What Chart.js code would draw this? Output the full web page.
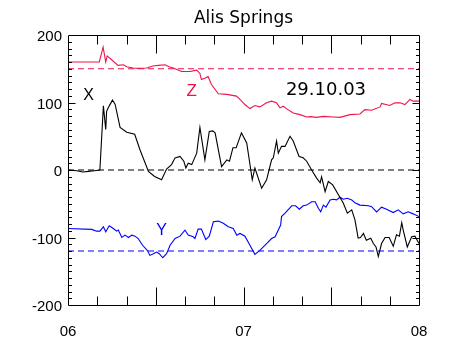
<!DOCTYPE html>
<html>
<head>
<meta charset="utf-8">
<script src="https://cdn.jsdelivr.net/npm/chart.js@4/dist/chart.umd.min.js"></script>
<style>
  html, body { margin: 0; padding: 0; background: #fff; }
  #wrap { width: 456px; height: 359px; }
</style>
</head>
<body>
<div id="wrap"><canvas id="c" width="456" height="359"></canvas></div>
<script>
// ---- data (x = minutes after 06:00 UT) ----
const title = "Alis Springs";
const dateLabel = "29.10.03";
const hourLabels = ["06", "07", "08"];

const zTime = [0,10.7,12,12.9,13.4,15,17.1,19,20,22.3,24,26.9,29,31,33.2,34.5,36,38.8,40.5,41.8,44,45.1,45.6,46.8,47.9,49,51.4,54.3,57.6,58.8,60.5,62.2,63.9,65.6,67.9,69.6,71.3,72.5,73.6,74.8,77,79.3,81.6,83,85,87.3,90.7,93,96.4,99.8,101.5,103.8,106.7,107.2,110,111.8,113.5,115.2,116.9,118,120];
const zValues = [160,160,182,160,169,163,155,156,153,151,150.5,151,154,155,156,153,151,146,146,146,148,143,134,136,138.5,127,113,112,109.5,104.5,97,91,95.5,93.5,99.5,102,99.5,92,94.5,90.5,84.5,82,78.5,79,78,79.5,78.5,78,82,83,89.5,88.5,93.5,98.5,95.5,99.5,99.5,97,104.5,102,102];

const xTime = [0,3,5,7,9,10.9,12.1,12.9,13.2,14.1,15.2,16.1,17.8,20.1,22.8,24.6,27.5,29.6,32,33.7,35.4,36.6,38.3,39.6,40.3,41.1,42.3,44,45.1,46.8,48.3,49.5,50.3,52.5,54.3,55.2,56.4,57.5,59.3,61.1,63,63.9,66.2,67.9,69.6,70.2,71.3,71.9,73,74.2,75.9,77,79,80.4,81.6,83.3,85,86.2,86.7,87.9,89,90.5,92.5,94.1,95.5,97,98.1,99.2,100,101,102,103.5,104.4,105.3,106.1,107.2,108.4,109.8,111.2,112.3,113.3,114.1,114.6,116,117.5,118.6,120];
const xValues = [0,-1,-3,-2,-1,0,95,60,87,95,103.5,97.5,63,56,53,30,-2,-9.5,-14.5,1.5,8,18,20,13,3,10,8,25,63,15,57,58,55,5,15,13,33,33,55,40,-14.5,3,-27,-14.5,15,18,43,25,35,35,50,43,20,18,13,0,-12,-19,-10,-32,-17,-22,-37,-49,-64,-59,-74,-101,-100,-94,-104,-101,-109,-114,-128,-109,-100,-100,-113,-96,-98,-78,-89,-114,-99,-98,-109];

const yTime = [0,8.1,9.8,10.9,12.1,12.9,14.1,15.5,16.6,17.2,18.4,19.5,20.7,21.8,22.9,24,25.5,27.1,28,29.2,30.3,31.2,32.4,33.7,34.9,36.6,38.3,40,41.1,42.8,43.4,44.5,45.6,47.1,48.3,49.7,51.4,53.1,54.8,56.5,57.7,58.8,60.5,62.2,63.9,65.6,67.9,69.6,70.8,71.9,72.7,73,74.2,75.7,76.5,77.8,79.1,80.4,81.6,83.3,84.5,85.6,86.4,87.3,88.2,89.6,90.7,91.8,93,94.1,95.5,97,98.1,99.8,102.7,103.8,105.5,107.2,108.9,111.2,112.9,114.6,116.3,118,120];
const yValues = [-86.6,-88,-90.6,-90.6,-84,-91.6,-82.7,-86.6,-90.6,-89,-100,-96.5,-100,-96.5,-98,-101.5,-111.5,-119,-126.5,-124,-121.5,-124,-130,-124,-111.5,-101.5,-98,-89,-96.5,-99,-101.5,-87.6,-87.6,-103,-98,-76.7,-75.7,-79,-84,-86.6,-96.5,-94,-98,-111.5,-125,-119,-109,-101.5,-99,-89,-81.6,-69,-64,-56.7,-53,-53,-58,-53,-52,-47,-47,-56.7,-62,-52,-55,-44.3,-43.3,-44.3,-40.3,-43.3,-41.8,-44.3,-48.4,-52,-53,-54.3,-62,-55,-58,-63,-59,-65,-62,-65,-69];

// reference (quiet) levels
const zRef = 150;
const xRef = 0;
const yRef = -120;
const timeRange = [0, 120];
const valueRange = [-200, 200];

// ---- styling ----
const RED = "rgb(240,20,75)";
const BLUE = "rgb(0,0,255)";
const BLACK = "#000";

function pts(t, v) { return t.map((x, i) => ({ x: x, y: v[i] })); }
function refLine(v) { return [{ x: timeRange[0], y: v }, { x: timeRange[1], y: v }]; }

const lineBase = { borderWidth: 1.1, pointRadius: 0, tension: 0, fill: false };

const datasets = [
  Object.assign({ label: "Z", data: pts(zTime, zValues), borderColor: RED }, lineBase),
  Object.assign({ label: "X", data: pts(xTime, xValues), borderColor: BLACK }, lineBase),
  Object.assign({ label: "Y", data: pts(yTime, yValues), borderColor: BLUE }, lineBase),
  Object.assign({ label: "Zref", data: refLine(zRef), borderColor: RED, borderDash: [6, 4] }, lineBase),
  Object.assign({ label: "Xref", data: refLine(xRef), borderColor: BLACK, borderDash: [6, 4] }, lineBase),
  Object.assign({ label: "Yref", data: refLine(yRef), borderColor: BLUE, borderDash: [6, 4] }, lineBase)
];

// text annotations placed in data coordinates
const notes = [
  { text: "X", t: 7, v: 104, color: BLACK, font: "16px 'Liberation Sans', Arial, sans-serif" },
  { text: "Z", t: 42.3, v: 110, color: RED, font: "17px 'Liberation Sans', Arial, sans-serif" },
  { text: "Y", t: 32, v: -96, color: BLUE, font: "16px 'Liberation Sans', Arial, sans-serif" },
  { text: dateLabel, t: 88.2, v: 110.5, color: BLACK, font: "18px 'DejaVu Sans', sans-serif" }
];

const framePlugin = {
  id: "frame",
  afterDatasetsDraw(chart) {
    const ctx = chart.ctx;
    const xs = chart.scales.x, ys = chart.scales.y;
    const L = Math.round(xs.getPixelForValue(timeRange[0])) + 0.5;
    const R = Math.round(xs.getPixelForValue(timeRange[1])) + 0.5;
    const T = Math.round(ys.getPixelForValue(valueRange[1])) + 0.5;
    const B = Math.round(ys.getPixelForValue(valueRange[0])) + 0.5;
    ctx.save();
    ctx.strokeStyle = "#000";
    ctx.lineWidth = 1;
    ctx.beginPath();
    ctx.rect(L, T, R - L, B - T);
    // x ticks every 10 min, long every 30 min
    for (let m = timeRange[0] + 10; m < timeRange[1]; m += 10) {
      const px = Math.round(xs.getPixelForValue(m)) + 0.5;
      const len = (m % 30 === 0) ? 18 : 9;
      ctx.moveTo(px, B); ctx.lineTo(px, B - len);
      ctx.moveTo(px, T); ctx.lineTo(px, T + len);
    }
    // y ticks every 10, long every 100
    for (let v = valueRange[0] + 10; v < valueRange[1]; v += 10) {
      const py = Math.round(ys.getPixelForValue(v)) + 0.5;
      const len = (v % 100 === 0) ? 7 : 3.5;
      ctx.moveTo(L, py); ctx.lineTo(L + len, py);
      ctx.moveTo(R, py); ctx.lineTo(R - len, py);
    }
    ctx.stroke();

    // title
    ctx.fillStyle = "#000";
    ctx.font = "17px 'DejaVu Sans', sans-serif";
    ctx.textAlign = "center";
    ctx.textBaseline = "alphabetic";
    ctx.fillText(title, (chart.chartArea.left + chart.chartArea.right) / 2, 23);

    // annotations
    notes.forEach(n => {
      ctx.fillStyle = n.color;
      ctx.font = n.font;
      ctx.textAlign = "center";
      ctx.textBaseline = "alphabetic";
      ctx.fillText(n.text, xs.getPixelForValue(n.t), ys.getPixelForValue(n.v));
    });
    ctx.restore();
  }
};

new Chart(document.getElementById("c"), {
  type: "line",
  data: { datasets: datasets },
  options: {
    responsive: false,
    animation: false,
    events: [],
    layout: { padding: { top: 35, right: 37, left: 0, bottom: 0 } },
    plugins: { legend: { display: false }, title: { display: false }, tooltip: { enabled: false } },
    scales: {
      x: {
        type: "linear",
        min: timeRange[0], max: timeRange[1],
        grid: { display: false, drawTicks: false },
        border: { display: false },
        ticks: {
          stepSize: 60,
          autoSkip: false,
          maxRotation: 0,
          padding: 18,
          color: "#000",
          font: { family: "'Liberation Sans', Arial, sans-serif", size: 15 },
          callback: (v) => hourLabels[Math.round(v / 60)]
        },
        afterFit: (s) => { s.height = 54; }
      },
      y: {
        type: "linear",
        min: valueRange[0], max: valueRange[1],
        grid: { display: false, drawTicks: false },
        border: { display: false },
        ticks: {
          stepSize: 100,
          padding: 6,
          labelOffset: 2,
          color: "#000",
          font: { family: "'Liberation Sans', Arial, sans-serif", size: 15 }
        },
        afterFit: (s) => { s.width = 68; }
      }
    }
  },
  plugins: [framePlugin]
});
</script>
</body>
</html>
